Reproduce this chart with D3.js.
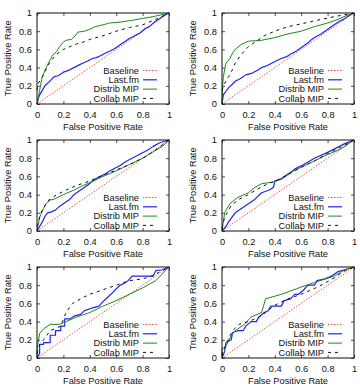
<!DOCTYPE html>
<html>
<head>
<meta charset="utf-8">
<script src="https://cdn.jsdelivr.net/npm/d3@7"></script>
<style>
  body { margin: 0; background: #fff; }
  svg { display: block; }
  text { font-family: "Liberation Sans", Arial, sans-serif; fill: #111; }
</style>
</head>
<body>
<script>
// ---- data: [fpr, tpr] pairs ----
const ticks = [0, 0.2, 0.4, 0.6, 0.8, 1];
const tickLabels = ["0", "0.2", "0.4", "0.6", "0.8", "1"];
const seriesNames = ["Baseline", "Last.fm", "Distrib MIP", "Collab MIP"];
const baseline = [[0, 0], [1, 1]];

const p1Lastfm = [[0,0],[0.01,0.06],[0.02,0.1],[0.04,0.15],[0.06,0.2],[0.09,0.24],[0.13,0.3],[0.16,0.31],[0.2,0.35],[0.24,0.37],[0.28,0.4],[0.32,0.43],[0.35,0.45],[0.38,0.47],[0.42,0.5],[0.45,0.51],[0.48,0.53],[0.52,0.56],[0.55,0.58],[0.59,0.61],[0.63,0.65],[0.67,0.69],[0.7,0.72],[0.74,0.75],[0.78,0.78],[0.82,0.83],[0.85,0.85],[0.89,0.9],[0.92,0.93],[0.96,0.97],[1,1]];
const p1Distrib = [[0,0],[0.02,0.15],[0.04,0.3],[0.07,0.4],[0.09,0.46],[0.12,0.54],[0.15,0.58],[0.17,0.63],[0.2,0.68],[0.22,0.7],[0.26,0.71],[0.29,0.75],[0.31,0.79],[0.36,0.8],[0.4,0.82],[0.44,0.85],[0.5,0.87],[0.55,0.89],[0.63,0.9],[0.72,0.92],[0.8,0.94],[0.88,0.96],[0.94,0.98],[1,1]];
const p1Collab = [[0,0.15],[0.01,0.23],[0.03,0.27],[0.06,0.35],[0.08,0.42],[0.11,0.48],[0.15,0.55],[0.2,0.6],[0.25,0.63],[0.3,0.66],[0.35,0.68],[0.4,0.71],[0.5,0.75],[0.6,0.8],[0.7,0.84],[0.8,0.87],[0.9,0.93],[1,1]];

const p2Lastfm = [[0,0],[0.01,0.1],[0.03,0.14],[0.05,0.18],[0.08,0.22],[0.1,0.25],[0.14,0.28],[0.18,0.32],[0.23,0.34],[0.27,0.37],[0.3,0.4],[0.34,0.42],[0.38,0.45],[0.42,0.48],[0.45,0.5],[0.49,0.52],[0.52,0.55],[0.55,0.57],[0.58,0.6],[0.62,0.64],[0.65,0.67],[0.68,0.71],[0.71,0.74],[0.75,0.77],[0.78,0.8],[0.82,0.84],[0.85,0.87],[0.89,0.91],[0.92,0.93],[0.96,0.97],[1,1]];
const p2Distrib = [[0,0],[0.005,0.2],[0.01,0.3],[0.03,0.45],[0.06,0.5],[0.08,0.56],[0.1,0.6],[0.14,0.65],[0.2,0.69],[0.3,0.7],[0.4,0.73],[0.5,0.77],[0.6,0.8],[0.7,0.85],[0.8,0.89],[0.88,0.93],[0.94,0.97],[1,1]];
const p2Collab = [[0,0.15],[0.01,0.2],[0.05,0.3],[0.08,0.38],[0.1,0.45],[0.15,0.55],[0.2,0.63],[0.27,0.7],[0.32,0.75],[0.4,0.8],[0.5,0.85],[0.6,0.88],[0.72,0.92],[0.85,0.96],[1,1]];

const p3Lastfm = [[0,0],[0.02,0.05],[0.04,0.1],[0.06,0.16],[0.08,0.2],[0.11,0.21],[0.14,0.23],[0.17,0.27],[0.2,0.3],[0.23,0.33],[0.25,0.35],[0.28,0.4],[0.3,0.42],[0.33,0.45],[0.35,0.47],[0.39,0.51],[0.42,0.55],[0.45,0.58],[0.48,0.6],[0.52,0.63],[0.55,0.66],[0.59,0.69],[0.63,0.72],[0.67,0.76],[0.72,0.8],[0.76,0.83],[0.8,0.86],[0.84,0.89],[0.88,0.93],[0.93,0.97],[1,1]];
const p3Distrib = [[0,0],[0.02,0.15],[0.05,0.25],[0.07,0.3],[0.1,0.34],[0.13,0.35],[0.2,0.4],[0.28,0.45],[0.35,0.5],[0.43,0.55],[0.5,0.6],[0.6,0.66],[0.7,0.73],[0.8,0.8],[0.88,0.87],[0.95,0.93],[1,1]];
const p3Collab = [[0,0.05],[0.03,0.2],[0.08,0.33],[0.15,0.4],[0.22,0.45],[0.3,0.5],[0.4,0.55],[0.48,0.6],[0.6,0.67],[0.7,0.73],[0.8,0.8],[0.88,0.87],[1,1]];

const p4Lastfm = [[0,0],[0.03,0.05],[0.05,0.1],[0.08,0.16],[0.1,0.2],[0.15,0.25],[0.2,0.3],[0.25,0.35],[0.3,0.42],[0.36,0.45],[0.39,0.48],[0.4,0.55],[0.45,0.57],[0.5,0.62],[0.55,0.68],[0.62,0.73],[0.7,0.8],[0.78,0.85],[0.85,0.9],[0.93,0.96],[1,1]];
const p4Distrib = [[0,0],[0.02,0.2],[0.06,0.3],[0.12,0.37],[0.2,0.42],[0.25,0.48],[0.3,0.52],[0.4,0.54],[0.45,0.58],[0.5,0.63],[0.6,0.7],[0.7,0.77],[0.8,0.84],[0.9,0.9],[1,1]];
const p4Collab = [[0,0.03],[0.02,0.15],[0.07,0.28],[0.13,0.35],[0.2,0.4],[0.28,0.47],[0.35,0.52],[0.42,0.56],[0.5,0.62],[0.6,0.7],[0.7,0.77],[0.8,0.85],[0.9,0.92],[1,1]];

const p5Lastfm = [[0,0],[0.02,0.05],[0.02,0.15],[0.05,0.15],[0.05,0.17],[0.1,0.17],[0.1,0.25],[0.14,0.25],[0.14,0.3],[0.18,0.3],[0.18,0.35],[0.21,0.35],[0.21,0.43],[0.25,0.43],[0.28,0.46],[0.33,0.48],[0.36,0.52],[0.42,0.55],[0.47,0.57],[0.5,0.62],[0.53,0.66],[0.56,0.7],[0.6,0.76],[0.63,0.8],[0.66,0.82],[0.69,0.85],[0.72,0.9],[0.88,0.9],[0.9,0.96],[0.95,0.97],[1,1]];
const p5Distrib = [[0,0],[0,0.1],[0.02,0.27],[0.05,0.32],[0.1,0.37],[0.17,0.37],[0.22,0.4],[0.3,0.45],[0.4,0.5],[0.5,0.57],[0.6,0.63],[0.7,0.7],[0.8,0.77],[0.9,0.85],[1,1]];
const p5Collab = [[0,0.05],[0.02,0.15],[0.05,0.2],[0.1,0.3],[0.15,0.33],[0.18,0.35],[0.22,0.5],[0.27,0.6],[0.33,0.65],[0.4,0.7],[0.5,0.75],[0.6,0.8],[0.7,0.85],[0.8,0.87],[0.87,0.9],[1,1]];

const p6Lastfm = [[0,0],[0.02,0.07],[0.03,0.17],[0.07,0.2],[0.08,0.28],[0.12,0.3],[0.16,0.3],[0.18,0.35],[0.22,0.4],[0.26,0.4],[0.28,0.45],[0.32,0.5],[0.35,0.52],[0.37,0.57],[0.45,0.57],[0.47,0.63],[0.52,0.65],[0.55,0.7],[0.58,0.7],[0.62,0.75],[0.65,0.8],[0.7,0.8],[0.72,0.85],[0.78,0.87],[0.83,0.9],[0.88,0.95],[0.93,0.97],[1,1]];
const p6Distrib = [[0,0],[0,0.1],[0.03,0.13],[0.07,0.25],[0.1,0.3],[0.17,0.37],[0.22,0.45],[0.3,0.5],[0.33,0.65],[0.45,0.7],[0.6,0.78],[0.7,0.83],[0.85,0.9],[0.93,0.97],[1,1]];
const p6Collab = [[0,0.03],[0.03,0.15],[0.08,0.3],[0.13,0.37],[0.2,0.4],[0.28,0.45],[0.33,0.5],[0.4,0.58],[0.5,0.65],[0.6,0.7],[0.68,0.75],[0.75,0.8],[0.85,0.88],[0.92,0.95],[1,1]];

const panels = [
  [p1Lastfm, p1Distrib, p1Collab],
  [p2Lastfm, p2Distrib, p2Collab],
  [p3Lastfm, p3Distrib, p3Collab],
  [p4Lastfm, p4Distrib, p4Collab],
  [p5Lastfm, p5Distrib, p5Collab],
  [p6Lastfm, p6Distrib, p6Collab],
];

// ---- layout ----
const W = 360, H = 387;
const colLeft = [37, 222];
const rowTop = [13, 140, 267];
const pw = 132, ph = 91;
const fontSize = 9.3;

const styles = [
  { color: "#ee2222", width: 0.8, dash: "1.5,1.5" },  // baseline
  { color: "#2222ee", width: 1.2, dash: null },       // last.fm
  { color: "#1a8a1a", width: 1, dash: null },         // distrib
  { color: "#111", width: 1, dash: "3,4" },           // collab
];

const svg = d3.select("body").append("svg")
  .attr("width", W).attr("height", H);

panels.forEach((series, i) => {
  const left = colLeft[i % 2];
  const top = rowTop[Math.floor(i / 2)];

  const x = d3.scaleLinear().domain([0, 1]).range([0, pw]);
  const y = d3.scaleLinear().domain([0, 1]).range([ph, 0]);

  const g = svg.append("g").attr("transform", `translate(${left},${top})`);

  // inward ticks on all four sides, labels on bottom/left
  const xAxis = g.append("g").attr("transform", `translate(0,${ph})`)
    .call(d3.axisBottom(x).tickValues(ticks).tickSize(-3).tickPadding(7)
      .tickFormat((d, j) => tickLabels[j]));
  const yAxis = g.append("g")
    .call(d3.axisLeft(y).tickValues(ticks).tickSize(-3).tickPadding(7)
      .tickFormat((d, j) => tickLabels[j]));
  g.append("g").call(d3.axisTop(x).tickValues(ticks).tickSize(-3).tickFormat(""));
  g.append("g").attr("transform", `translate(${pw},0)`)
    .call(d3.axisRight(y).tickValues(ticks).tickSize(-3).tickFormat(""));

  g.selectAll(".domain").remove();
  g.selectAll(".tick line").attr("stroke", "#222").attr("stroke-width", 0.8);
  g.selectAll(".tick text")
    .style("font-family", "'Liberation Sans', Arial, sans-serif")
    .style("font-size", fontSize + "px").attr("fill", "#111");
  yAxis.selectAll(".tick text").attr("x", -5);

  const line = d3.line().x(d => x(d[0])).y(d => y(d[1]));
  const all = [baseline, ...series];
  all.forEach((data, k) => {
    const s = styles[k];
    g.append("path")
      .datum(data)
      .attr("d", line)
      .attr("fill", "none")
      .attr("stroke", s.color)
      .attr("stroke-width", s.width)
      .attr("stroke-dasharray", s.dash)
      .attr("stroke-linejoin", "round");
  });

  // frame
  g.append("rect").attr("width", pw).attr("height", ph)
    .attr("fill", "none").attr("stroke", "#111").attr("stroke-width", 1);

  // legend
  const leg = g.append("g");
  seriesNames.forEach((name, k) => {
    const ly = 57.5 + k * 9.3;
    leg.append("text")
      .attr("x", pw - 30).attr("y", ly).attr("dy", "0.35em")
      .attr("text-anchor", "end")
      .style("font-size", fontSize + "px")
      .text(name);
    leg.append("line")
      .attr("x1", pw - 26).attr("x2", pw - 12)
      .attr("y1", ly).attr("y2", ly)
      .attr("stroke", styles[k].color)
      .attr("stroke-width", styles[k].width)
      .attr("stroke-dasharray", styles[k].dash);
  });

  // axis titles
  g.append("text")
    .attr("x", pw / 2).attr("y", ph + 26)
    .attr("text-anchor", "middle")
    .style("font-size", fontSize + "px")
    .text("False Positive Rate");
  g.append("text")
    .attr("transform", `translate(-26,${ph / 2}) rotate(-90)`)
    .attr("text-anchor", "middle")
    .style("font-size", fontSize + "px")
    .text("True Positive Rate");
});
</script>
</body>
</html>
